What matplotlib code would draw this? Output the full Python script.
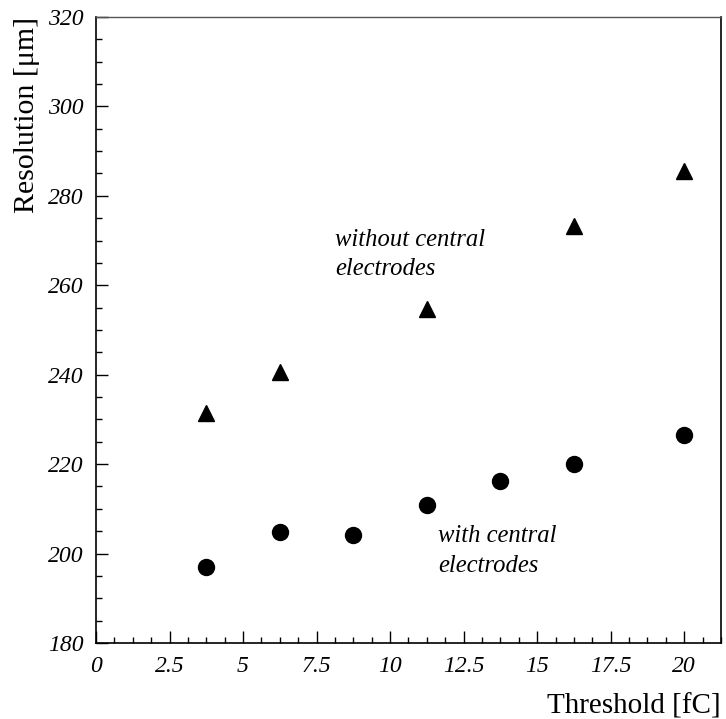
import matplotlib

matplotlib.use("Agg")
import matplotlib.pyplot as plt
from matplotlib.ticker import MultipleLocator, FuncFormatter

# threshold [fC] and resolution [um]
with_x = [3.75, 6.25, 8.75, 11.25, 13.75, 16.25, 20.0]
with_res = [197.0, 204.9, 204.2, 210.9, 216.3, 220.1, 226.5]
without_x = [3.75, 6.25, 11.25, 16.25, 20.0]
without_res = [231.4, 240.5, 254.8, 273.3, 285.5]

plt.rcParams["font.family"] = ["Liberation Serif", "DejaVu Serif"]

fig = plt.figure(figsize=(7.26, 7.19), dpi=100)
ax = fig.add_axes([0.1322, 0.1057, 0.8609, 0.8707])

ax.plot(with_x, with_res, "o", color="black", markersize=11.5, linestyle="none")
ax.plot(without_x, without_res, "^", color="black", markersize=11, linestyle="none")

ax.set_xlim(0, 21.25)
ax.set_ylim(180, 320)
ax.xaxis.set_major_locator(MultipleLocator(2.5))
ax.xaxis.set_minor_locator(MultipleLocator(0.625))
ax.yaxis.set_major_locator(MultipleLocator(20))
ax.yaxis.set_minor_locator(MultipleLocator(5))
ax.xaxis.set_major_formatter(FuncFormatter(lambda v, p: f"{v:g}"))
ax.yaxis.set_major_formatter(FuncFormatter(lambda v, p: f"{v:g}"))

ax.tick_params(which="both", direction="in", top=False, right=False, width=1.0)
ax.tick_params(which="major", length=8.5, labelsize=17, pad=9)
ax.tick_params(which="minor", length=4.5)
for label in ax.get_xticklabels() + ax.get_yticklabels():
    label.set_fontstyle("italic")

for side in ["left", "bottom", "right"]:
    ax.spines[side].set_linewidth(1.2)
ax.spines["top"].set_linewidth(1.0)
ax.spines["top"].set_color("#555555")

ax.set_xlabel("Threshold [fC]", fontsize=21, loc="right", labelpad=12)
ax.set_ylabel("Resolution [μm]", fontsize=21.5, loc="top", labelpad=6)

# baseline alignment uses the last line of the block
ax.text(8.13, 262.3, "without central\nelectrodes", fontsize=17.7,
        style="italic", linespacing=1.44, va="baseline", ha="left")
ax.text(11.63, 195.9, "with central\nelectrodes", fontsize=17.7,
        style="italic", linespacing=1.44, va="baseline", ha="left")

fig.savefig("out.png", dpi=100)
